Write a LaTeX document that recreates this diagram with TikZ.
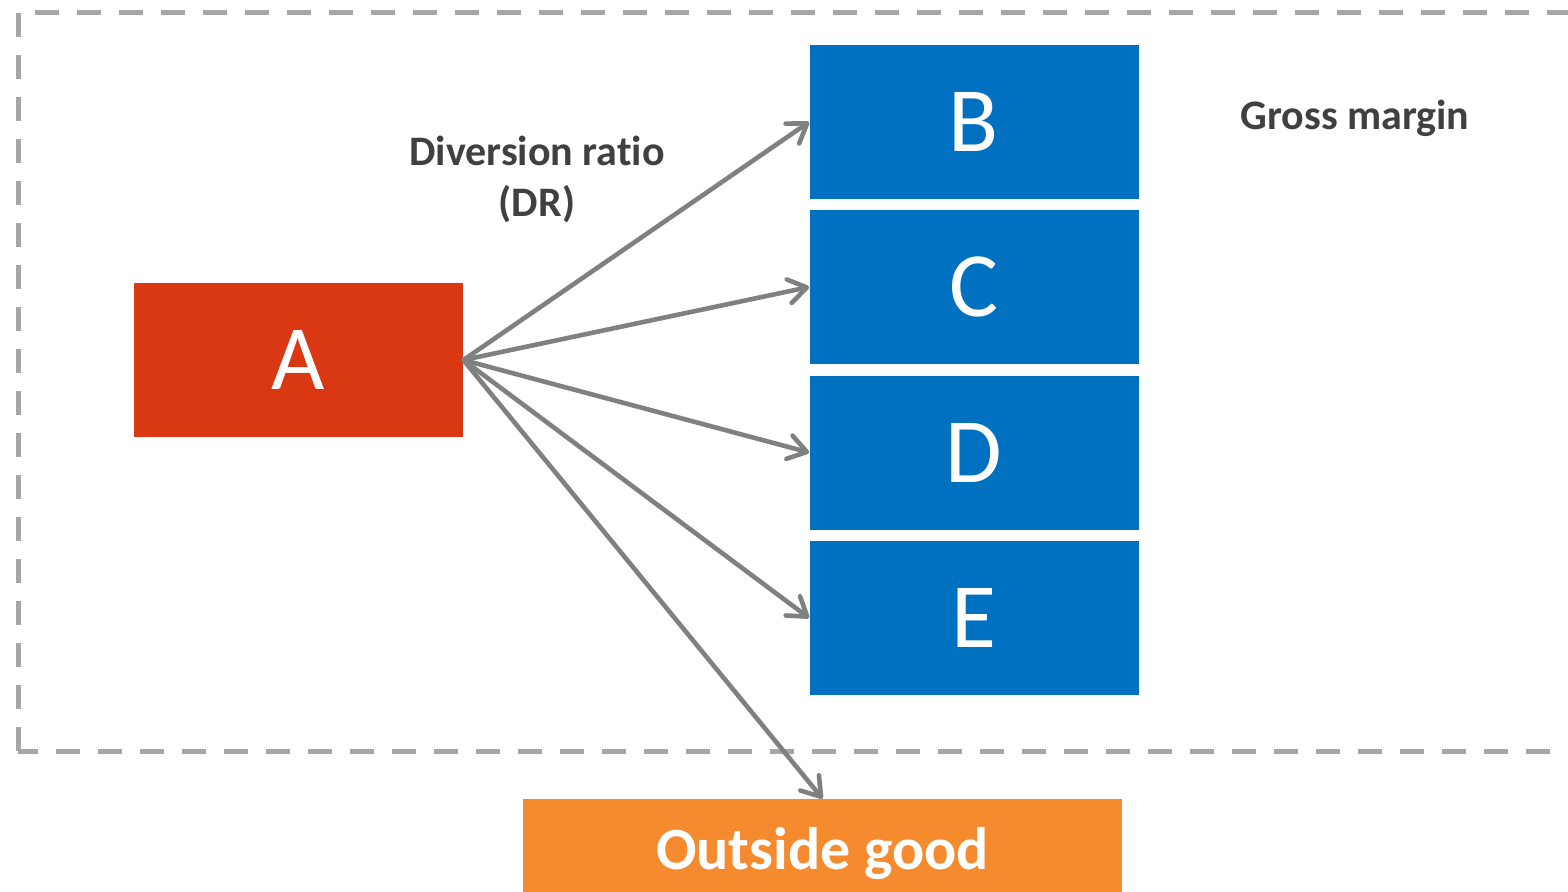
\documentclass[tikz,border=0pt]{standalone}
\usepackage{fontspec}
\setmainfont{Carlito}[Ligatures=NoCommon]
\usetikzlibrary{arrows.meta}
\definecolor{redA}{HTML}{DA3812}
\definecolor{blueBox}{HTML}{0070C0}
\definecolor{orangeBox}{HTML}{F58A2E}
\definecolor{arrowGray}{HTML}{808080}
\definecolor{dashGray}{HTML}{A6A6A6}
\definecolor{labelGray}{HTML}{404040}
\tikzset{
  box/.style={rectangle, inner sep=0pt, text=white, minimum width=164.5pt, minimum height=77pt,
    font=\fontsize{46pt}{50pt}\selectfont},
  flow/.style={draw=arrowGray, line width=2.3pt, line cap=round,
    -{Straight Barb[length=9pt,width=12pt,round]}},
  lbl/.style={text=labelGray, font=\bfseries\fontsize{21pt}{25.5pt}\selectfont, align=center, inner sep=0pt},
}
\begin{document}
\begin{tikzpicture}[x=0.5pt,y=-0.5pt]
  \useasboundingbox (0,0) rectangle (1568,891);
  % market boundary
  \draw[dashGray, line width=2.5pt, dash pattern=on 12pt off 9pt]
    (18,751) -- (18,12) -- (1620,12) -- (1620,751) -- cycle;
  % products
  \node[box, fill=redA] (A) at (298.5,360) {A};
  \node[box, fill=blueBox] (B) at (974,122) {B};
  \node[box, fill=blueBox] (C) at (974,287) {C};
  \node[box, fill=blueBox] (D) at (974,452.5) {D};
  \node[box, fill=blueBox] (E) at (974,618) {E};
  \node[rectangle, inner sep=0pt, fill=orangeBox, text=white, minimum width=299.5pt, minimum height=55pt,
    font=\bfseries\fontsize{30pt}{34pt}\selectfont] (O) at (822.5,854) {Outside good};
  % labels
  \node[lbl, anchor=base] (dr) at (537,216) {Diversion ratio\\(DR)};
  \node[lbl, anchor=base] (gm) at (1355,129) {Gross margin};
  % diversion flows
  \draw[flow] (A.east) -- (B.west);
  \draw[flow] (A.east) -- (C.west);
  \draw[flow] (A.east) -- (D.west);
  \draw[flow] (A.east) -- (E.west);
  \draw[flow] (A.east) -- (O.north);
\end{tikzpicture}
\end{document}
